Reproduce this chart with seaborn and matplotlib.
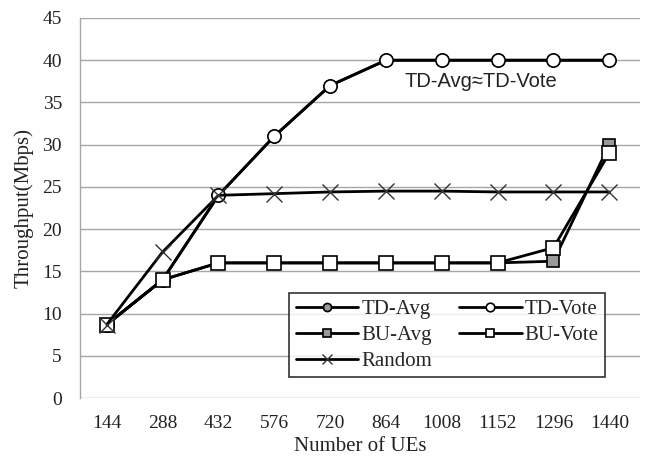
import matplotlib
matplotlib.use("Agg")
import matplotlib.pyplot as plt
import seaborn as sns
import pandas as pd

ues = [144, 288, 432, 576, 720, 864, 1008, 1152, 1296, 1440]
td_avg = [8.7, 14.0, 24.0, 31.0, 37.0, 40.0, 40.0, 40.0, 40.0, 40.0]
td_vote = [8.7, 14.0, 24.0, 31.0, 37.0, 40.0, 40.0, 40.0, 40.0, 40.0]
bu_avg = [8.7, 14.0, 16.0, 16.0, 16.0, 16.0, 16.0, 16.0, 16.2, 30.0]
bu_vote = [8.7, 14.0, 16.0, 16.0, 16.0, 16.0, 16.0, 16.0, 17.8, 29.0]
rand = [8.7, 17.3, 24.0, 24.2, 24.4, 24.5, 24.5, 24.4, 24.4, 24.4]

series = ["TD-Avg", "TD-Vote", "BU-Avg", "BU-Vote", "Random"]
values = [td_avg, td_vote, bu_avg, bu_vote, rand]

sns.set_theme(style="white")
plt.rcParams["font.family"] = ["Liberation Serif", "DejaVu Serif"]

rows = []
for name, vals in zip(series, values):
    for i, (u, v) in enumerate(zip(ues, vals)):
        rows.append({"pos": i, "UEs": str(u), "Throughput": v, "Series": name})
df = pd.DataFrame(rows)

fig = plt.figure(figsize=(6.45, 4.61), dpi=100)
ax = fig.add_axes([80 / 645, 1 - 398 / 461, 560 / 645, 380 / 461])

styles = {
    "TD-Avg": dict(marker="o", mfc="#999999", ms=9),
    "TD-Vote": dict(marker="o", mfc="white", ms=9.5),
    "BU-Avg": dict(marker="s", mfc="#999999", ms=9),
    "BU-Vote": dict(marker="s", mfc="white", ms=9.5),
    "Random": dict(marker="x", mfc="none", ms=12),
}
draw_order = ["TD-Avg", "TD-Vote", "BU-Avg", "BU-Vote", "Random"]
handles = {}
for name in draw_order:
    st = styles[name]
    sub = df[df["Series"] == name]
    sns.lineplot(data=sub, x="pos", y="Throughput", ax=ax, color="black",
                 linewidth=2.0, marker=st["marker"], markersize=st["ms"],
                 markerfacecolor=st["mfc"],
                 markeredgecolor="#333333" if name == "Random" else "black",
                 markeredgewidth=1.0 if name == "Random" else 1.2,
                 label=name, legend=False, zorder=3)
    handles[name] = ax.lines[-1]

ax.set_ylim(0, 45)
ax.set_xlim(-0.48, 9.55)
ax.set_yticks(range(0, 46, 5))
ax.set_xticks(range(len(ues)))
ax.set_xticklabels([str(u) for u in ues])
ax.yaxis.grid(True, color="#a6a6a6", linewidth=1.0)
ax.xaxis.grid(False)
for s in ["top", "right", "bottom"]:
    ax.spines[s].set_visible(False)
ax.spines["left"].set_color("#a6a6a6")
ax.spines["left"].set_linewidth(1.0)
ax.tick_params(axis="both", length=0, labelsize=14, colors="#222222")
ax.tick_params(axis="x", pad=12)
ax.tick_params(axis="y", pad=13)
ax.set_xlabel("Number of UEs", fontsize=15, labelpad=4, color="#222222")
ax.set_ylabel("Throughput(Mbps)", fontsize=15, labelpad=6, color="#222222")

ax.text(6.7, 37.5, "TD-Avg\u2248TD-Vote", family=["Liberation Sans", "DejaVu Sans"],
        fontsize=14.5, ha="center", va="center", color="#222222")

leg_order = ["TD-Avg", "BU-Avg", "Random", "TD-Vote", "BU-Vote"]
leg = ax.legend([handles[n] for n in leg_order], leg_order, loc="lower right",
                bbox_to_anchor=(0.9375, 0.055), ncol=2, frameon=True,
                fancybox=False, edgecolor="black", fontsize=15,
                handlelength=3.0, columnspacing=1.3, labelspacing=0.3,
                borderpad=0.3, handletextpad=0.15, borderaxespad=0,
                markerscale=0.65)
leg.get_frame().set_linewidth(1.2)
leg.set_zorder(5)

fig.savefig("out.png", dpi=100, facecolor="white")
